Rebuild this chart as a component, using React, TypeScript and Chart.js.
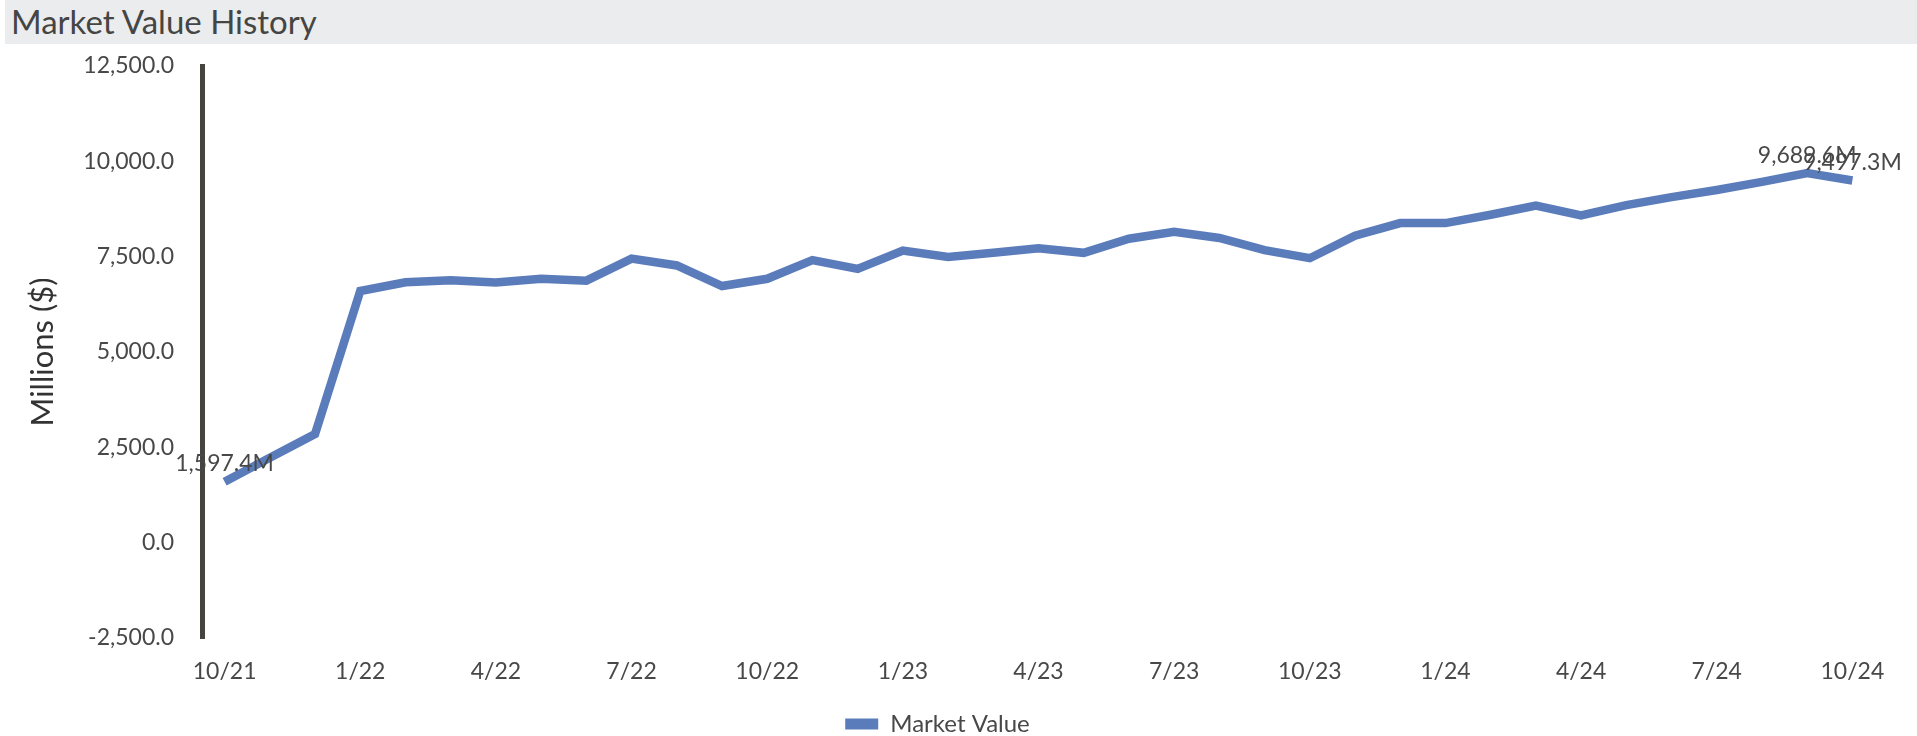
import React, { useEffect, useRef } from 'react';
import { Chart, registerables } from 'chart.js';

Chart.register(...registerables);

// ---- Data ----
const categories: string[] = [
  '10/21', '11/21', '12/21',
  '1/22', '2/22', '3/22', '4/22', '5/22', '6/22', '7/22', '8/22', '9/22', '10/22', '11/22', '12/22',
  '1/23', '2/23', '3/23', '4/23', '5/23', '6/23', '7/23', '8/23', '9/23', '10/23', '11/23', '12/23',
  '1/24', '2/24', '3/24', '4/24', '5/24', '6/24', '7/24', '8/24', '9/24', '10/24',
];

const marketValues: number[] = [
  1597.4, 2230, 2850,
  6600, 6830, 6880, 6820, 6920, 6870, 7450, 7270, 6730, 6920, 7410, 7180,
  7660, 7490, 7600, 7720, 7600, 7970, 8150, 7990, 7670, 7460, 8050, 8380,
  8380, 8600, 8840, 8580, 8850, 9060, 9250, 9460, 9689.6, 9497.3,
];

const labeledIndices: number[] = [0, 35, 36];

const yMin = -2500;
const yMax = 12500;
const yStep = 2500;

const seriesName = 'Market Value';
const chartTitle = 'Market Value History';
const yAxisTitle = 'Millions ($)';

// ---- Styles ----
const FONT = 'Lato, "Noto Sans", sans-serif';
const TEXT = '#484848';
const BLUE = '#5b7cbb';

const fmt1 = (v: number) =>
  Number(v).toLocaleString('en-US', { minimumFractionDigits: 1, maximumFractionDigits: 1 });

const pointLabelPlugin = {
  id: 'pointLabels',
  afterDatasetsDraw(chart: any) {
    const meta = chart.getDatasetMeta(0);
    const ctx = chart.ctx;
    ctx.save();
    ctx.font = `23px ${FONT}`;
    ctx.fillStyle = TEXT;
    ctx.textAlign = 'center';
    ctx.textBaseline = 'middle';
    labeledIndices.forEach((i) => {
      const el = meta.data[i];
      if (el) ctx.fillText(fmt1(marketValues[i]) + 'M', el.x, el.y - 18);
    });
    ctx.restore();
  },
};

export default function App() {
  const canvasRef = useRef<HTMLCanvasElement | null>(null);

  useEffect(() => {
    document.body.style.margin = '0';
    const canvas = canvasRef.current;
    if (!canvas) return;
    const chart = new Chart(canvas, {
      type: 'line',
      data: {
        labels: categories,
        datasets: [
          {
            label: seriesName,
            data: marketValues,
            borderColor: BLUE,
            backgroundColor: BLUE,
            borderWidth: 8.5,
            pointRadius: 0,
            pointHoverRadius: 0,
            tension: 0,
            fill: false,
          },
        ],
      },
      options: {
        responsive: false,
        animation: false,
        devicePixelRatio: 1,
        layout: { padding: { top: 66, right: 42, bottom: 0, left: 0 } },
        plugins: {
          title: { display: false },
          tooltip: { enabled: false },
          legend: {
            display: true,
            position: 'bottom',
            labels: {
              boxWidth: 33,
              boxHeight: 11,
              padding: 10,
              color: TEXT,
              font: { size: 24, family: FONT },
              generateLabels: (c: any) =>
                Chart.defaults.plugins.legend.labels
                  .generateLabels(c)
                  .map((l: any) => ({ ...l, lineWidth: 0, fillStyle: BLUE, strokeStyle: BLUE })),
            },
          },
        },
        scales: {
          x: {
            offset: true,
            afterFit: (s: any) => {
              s.height = 64;
            },
            grid: { display: false, drawTicks: false },
            border: { display: false },
            ticks: {
              autoSkip: false,
              maxRotation: 0,
              minRotation: 0,
              padding: 20,
              color: TEXT,
              font: { size: 23, family: FONT },
              callback: (_v: any, i: number) => (i % 3 === 0 ? categories[i] : ''),
            },
          },
          y: {
            min: yMin,
            max: yMax,
            z: 1,
            afterFit: (s: any) => {
              s.width = 202;
            },
            grid: { display: false, drawTicks: false },
            border: { display: true, color: '#46443f', width: 5 },
            ticks: {
              stepSize: yStep,
              padding: 28,
              color: TEXT,
              font: { size: 23, family: FONT },
              callback: (v: any) => fmt1(Number(v)),
            },
            title: {
              display: true,
              text: yAxisTitle,
              color: '#333333',
              font: { size: 31, family: FONT },
              padding: { top: 24, bottom: 0 },
            },
          },
        },
      },
      plugins: [pointLabelPlugin],
    });
    return () => chart.destroy();
  }, []);

  return (
    <div style={{ position: 'relative', width: 1917, height: 736, overflow: 'hidden', background: '#ffffff' }}>
      <canvas
        ref={canvasRef}
        width={1917}
        height={746}
        style={{ position: 'absolute', left: 0, top: 0, width: 1917, height: 746 }}
      />
      <div
        style={{
          position: 'absolute',
          left: 5,
          top: 0,
          width: 1912,
          height: 44,
          background: '#ebecee',
          fontFamily: FONT,
          fontSize: 33,
          lineHeight: '42px',
          color: '#454543',
          paddingLeft: 6,
          boxSizing: 'border-box',
          whiteSpace: 'nowrap',
        }}
      >
        {chartTitle}
      </div>
    </div>
  );
}
